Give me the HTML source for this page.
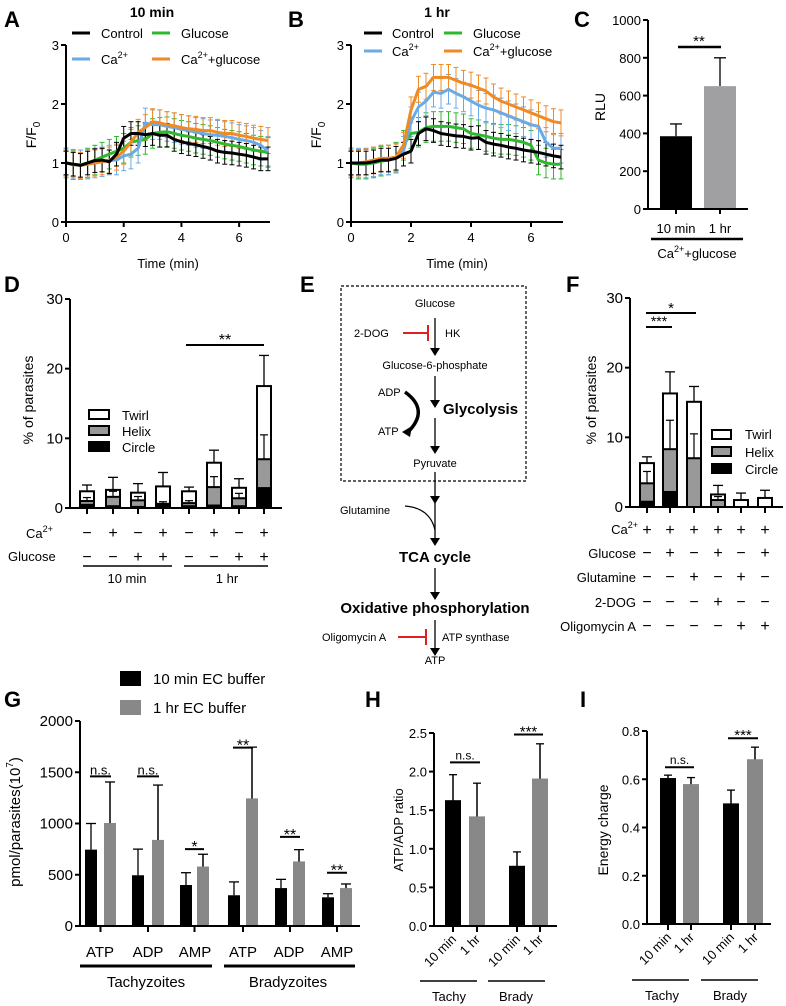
<!DOCTYPE html>
<html><head><meta charset="utf-8"><style>
html,body{margin:0;padding:0;background:#fff}
svg{display:block;font-family:"Liberation Sans",Arial,sans-serif}
</style></head><body>
<svg id="fig" width="786" height="1006" viewBox="0 0 786 1006" xmlns="http://www.w3.org/2000/svg">
<g font-weight="bold" font-size="22">
<text x="4" y="27">A</text>
<text x="288" y="27">B</text>
<text x="574" y="27">C</text>
<text x="4" y="292">D</text>
<text x="300" y="292">E</text>
<text x="566" y="292">F</text>
<text x="4" y="707">G</text>
<text x="365" y="707">H</text>
<text x="580" y="707">I</text>
</g>
<text x="152" y="17" font-size="14" font-weight="bold" text-anchor="middle">10 min</text>
<text x="437" y="17" font-size="14" font-weight="bold" text-anchor="middle">1 hr</text>
<text x="168" y="268" font-size="13" text-anchor="middle">Time (min)</text>
<text x="457" y="268" font-size="13" text-anchor="middle">Time (min)</text>
<text transform="translate(36,135) rotate(-90)" font-size="14" text-anchor="middle">F/F<tspan font-size="10" dy="4">0</tspan></text>
<text transform="translate(321,135) rotate(-90)" font-size="14" text-anchor="middle">F/F<tspan font-size="10" dy="4">0</tspan></text>
<text transform="translate(605,107) rotate(-90)" font-size="14" text-anchor="middle">RLU</text>
<text transform="translate(33,400) rotate(-90)" font-size="14" text-anchor="middle">% of parasites</text>
<text transform="translate(596,400) rotate(-90)" font-size="14" text-anchor="middle">% of parasites</text>
<text transform="translate(20,822) rotate(-90)" font-size="15" text-anchor="middle">pmol/parasites(10<tspan font-size="10" dy="-7">7</tspan><tspan dy="7">)</tspan></text>
<text transform="translate(403,830) rotate(-90)" font-size="13" text-anchor="middle">ATP/ADP ratio</text>
<text transform="translate(608,830) rotate(-90)" font-size="14" text-anchor="middle">Energy charge</text>
<!-- legends A/B -->
<g font-size="13">
<line x1="72" y1="33" x2="90" y2="33" stroke="#000" stroke-width="3"/><text x="101" y="38">Control</text>
<line x1="152" y1="33" x2="170" y2="33" stroke="#2db82d" stroke-width="3"/><text x="181" y="38">Glucose</text>
<line x1="72" y1="59" x2="90" y2="59" stroke="#6aaae6" stroke-width="3"/><text x="101" y="64">Ca<tspan font-size="9" dy="-6">2+</tspan></text>
<line x1="152" y1="59" x2="170" y2="59" stroke="#f08a24" stroke-width="3"/><text x="181" y="64">Ca<tspan font-size="9" dy="-6">2+</tspan><tspan dy="6">+glucose</tspan></text>
</g>
<g font-size="13">
<line x1="364" y1="33" x2="382" y2="33" stroke="#000" stroke-width="3"/><text x="392" y="38">Control</text>
<line x1="444" y1="33" x2="462" y2="33" stroke="#2db82d" stroke-width="3"/><text x="473" y="38">Glucose</text>
<line x1="364" y1="51" x2="382" y2="51" stroke="#6aaae6" stroke-width="3"/><text x="392" y="56">Ca<tspan font-size="9" dy="-6">2+</tspan></text>
<line x1="444" y1="51" x2="462" y2="51" stroke="#f08a24" stroke-width="3"/><text x="473" y="56">Ca<tspan font-size="9" dy="-6">2+</tspan><tspan dy="6">+glucose</tspan></text>
</g>
<!-- C labels -->
<g font-size="13">
<text x="676" y="233" text-anchor="middle">10 min</text><text x="720" y="233" text-anchor="middle">1 hr</text>
<line x1="651" y1="239" x2="743" y2="239" stroke="#000" stroke-width="2.5"/>
<text x="697" y="258" text-anchor="middle">Ca<tspan font-size="9" dy="-6">2+</tspan><tspan dy="6">+glucose</tspan></text>
</g>
<!-- D legend and rows -->
<g font-size="13">
<rect x="89" y="410" width="20" height="9" fill="#fff" stroke="#000" stroke-width="2"/><text x="122" y="420">Twirl</text>
<rect x="89" y="426" width="20" height="9" fill="#999" stroke="#000" stroke-width="2"/><text x="122" y="436">Helix</text>
<rect x="89" y="442" width="20" height="9" fill="#000" stroke="#000" stroke-width="2"/><text x="122" y="452">Circle</text>
</g>
<g font-size="13">
<text x="26" y="538">Ca<tspan font-size="9" dy="-6">2+</tspan></text>
<text x="8" y="561">Glucose</text>
<line x1="83" y1="566" x2="172" y2="566" stroke="#000" stroke-width="1.5"/>
<line x1="184" y1="566" x2="268" y2="566" stroke="#000" stroke-width="1.5"/>
<text x="127" y="583" text-anchor="middle">10 min</text><text x="227" y="583" text-anchor="middle">1 hr</text>
</g>
<g font-size="13">
<rect x="712" y="430" width="19" height="9" fill="#fff" stroke="#000" stroke-width="2"/><text x="745" y="439">Twirl</text>
<rect x="712" y="447" width="19" height="9" fill="#999" stroke="#000" stroke-width="2"/><text x="745" y="457">Helix</text>
<rect x="712" y="464" width="19" height="9" fill="#000" stroke="#000" stroke-width="2"/><text x="745" y="474">Circle</text>
</g>
<g font-size="13" text-anchor="end">
<text x="638" y="534">Ca<tspan font-size="9" dy="-6">2+</tspan></text>
<text x="636" y="558">Glucose</text>
<text x="636" y="582">Glutamine</text>
<text x="636" y="607">2-DOG</text>
<text x="636" y="631">Oligomycin A</text>
</g>
<!-- E pathway -->
<g font-size="11">
<rect x="341" y="286" width="185" height="195" fill="none" stroke="#000" stroke-width="1.2" stroke-dasharray="3,2"/>
<text x="435" y="307" text-anchor="middle">Glucose</text>
<text x="354" y="337">2-DOG</text>
<line x1="403" y1="333" x2="428" y2="333" stroke="#e02020" stroke-width="2"/><line x1="428" y1="325" x2="428" y2="341" stroke="#e02020" stroke-width="2"/>
<text x="445" y="337">HK</text>
<text x="435" y="369" text-anchor="middle">Glucose-6-phosphate</text>
<text x="378" y="396">ADP</text>
<path d="M405,392 Q430,410 408,432" fill="none" stroke="#000" stroke-width="3.5"/>
<polygon points="402,432 412,426 410,437" fill="#000"/>
<text x="443" y="414" font-size="15" font-weight="bold">Glycolysis</text>
<text x="378" y="435">ATP</text>
<text x="435" y="467" text-anchor="middle">Pyruvate</text>
<text x="340" y="514">Glutamine</text>
<path d="M405,506 Q430,508 435,530" fill="none" stroke="#000" stroke-width="1.2"/>
<text x="435" y="562" font-size="15" font-weight="bold" text-anchor="middle">TCA cycle</text>
<text x="435" y="613" font-size="15" font-weight="bold" text-anchor="middle">Oxidative phosphorylation</text>
<text x="322" y="641">Oligomycin A</text>
<line x1="398" y1="637" x2="426" y2="637" stroke="#e02020" stroke-width="2"/><line x1="426" y1="629" x2="426" y2="645" stroke="#e02020" stroke-width="2"/>
<text x="442" y="641">ATP synthase</text>
<text x="435" y="664" text-anchor="middle">ATP</text>
<g stroke="#000" stroke-width="1.3">
<line x1="435" y1="318" x2="435" y2="350"/><line x1="435" y1="376" x2="435" y2="402"/><line x1="435" y1="418" x2="435" y2="448"/>
<line x1="435" y1="472" x2="435" y2="498"/><line x1="435" y1="500" x2="435" y2="540"/><line x1="435" y1="568" x2="435" y2="594"/><line x1="435" y1="620" x2="435" y2="650"/>
</g>
<g fill="#000">
<polygon points="430,348 440,348 435,356"/><polygon points="430,400 440,400 435,408"/><polygon points="430,446 440,446 435,454"/>
<polygon points="430,496 440,496 435,504"/><polygon points="430,538 440,538 435,546"/><polygon points="430,592 440,592 435,600"/><polygon points="430,648 440,648 435,656"/>
</g>
</g>
<!-- G legend & labels -->
<g font-size="15">
<rect x="120" y="671" width="21" height="15" fill="#000"/><text x="153" y="684">10 min EC buffer</text>
<rect x="120" y="700" width="21" height="15" fill="#888"/><text x="153" y="713">1 hr EC buffer</text>
</g>
<g font-size="15" text-anchor="middle">
<text x="100" y="957">ATP</text><text x="148" y="957">ADP</text><text x="195" y="957">AMP</text>
<text x="243" y="957">ATP</text><text x="289" y="957">ADP</text><text x="337" y="957">AMP</text>
<line x1="80" y1="966" x2="212" y2="966" stroke="#000" stroke-width="3"/>
<line x1="224" y1="966" x2="355" y2="966" stroke="#000" stroke-width="3"/>
<text x="146" y="987">Tachyzoites</text><text x="288" y="987">Bradyzoites</text>
</g>
<g font-size="13">
<line x1="420" y1="981" x2="477" y2="981" stroke="#000" stroke-width="1.5"/><line x1="488" y1="981" x2="545" y2="981" stroke="#000" stroke-width="1.5"/>
<text x="449" y="1001" text-anchor="middle">Tachy</text><text x="516" y="1001" text-anchor="middle">Brady</text>
<line x1="632" y1="980" x2="689" y2="980" stroke="#000" stroke-width="1.5"/><line x1="701" y1="980" x2="758" y2="980" stroke="#000" stroke-width="1.5"/>
<text x="662" y="1000" text-anchor="middle">Tachy</text><text x="730" y="1000" text-anchor="middle">Brady</text>
</g>
</svg>
<script>
// ---------- Data ----------
const timeA = [0,0.25,0.5,0.75,1,1.25,1.5,1.75,2,2.25,2.5,2.75,3,3.25,3.5,3.75,4,4.25,4.5,4.75,5,5.25,5.5,5.75,6,6.25,6.5,6.75,7];
const aControl = [1.0,0.98,0.96,1.0,1.04,1.05,1.02,1.15,1.42,1.5,1.5,1.48,1.5,1.47,1.47,1.4,1.36,1.33,1.31,1.28,1.25,1.2,1.18,1.17,1.15,1.13,1.1,1.07,1.07];
const aGlucose = [1.0,0.97,0.97,1.0,1.05,1.1,1.15,1.2,1.25,1.35,1.38,1.4,1.5,1.52,1.53,1.5,1.47,1.45,1.42,1.4,1.38,1.35,1.32,1.3,1.28,1.25,1.22,1.2,1.18];
const aCa = [1.0,0.98,0.97,0.98,1.0,1.02,1.05,1.05,1.12,1.15,1.25,1.68,1.65,1.65,1.62,1.6,1.57,1.55,1.52,1.5,1.48,1.47,1.45,1.43,1.4,1.38,1.35,1.3,1.2];
const aCaGlu = [1.0,0.98,0.96,0.98,1.0,1.02,1.05,1.1,1.2,1.35,1.52,1.6,1.7,1.68,1.65,1.63,1.6,1.58,1.57,1.55,1.55,1.52,1.5,1.5,1.47,1.45,1.42,1.4,1.38];
const bControl = [1.0,1.0,1.0,1.02,1.05,1.05,1.08,1.15,1.2,1.5,1.58,1.55,1.5,1.48,1.46,1.45,1.42,1.43,1.35,1.32,1.3,1.27,1.25,1.22,1.2,1.18,1.15,1.12,1.1];
const bGlucose = [1.0,0.98,0.98,1.0,1.03,1.05,1.1,1.3,1.5,1.52,1.6,1.62,1.62,1.62,1.6,1.58,1.5,1.48,1.45,1.42,1.4,1.4,1.38,1.35,1.3,1.05,1.0,0.98,0.98];
const bCa = [1.0,1.0,1.0,1.02,1.05,1.05,1.08,1.2,1.7,1.95,2.05,2.2,2.18,2.25,2.18,2.12,2.05,1.98,1.93,1.9,1.85,1.8,1.75,1.7,1.65,1.62,1.35,1.25,1.25];
const bCaGlu = [1.0,1.0,1.02,1.05,1.08,1.08,1.1,1.3,1.9,2.25,2.3,2.45,2.45,2.45,2.4,2.35,2.32,2.27,2.22,2.12,2.05,2.0,1.95,1.9,1.85,1.8,1.75,1.7,1.68];
const seriesErr = [0.2,0.25,0.25,0.22];
const timeTicks = [0,2,4,6];
const fTicks = [0,1,2,3];

const cCats = ['10 min','1 hr'];
const cVals = [385,650];
const cErr = [65,150];
const cTicks = [0,200,400,600,800,1000];

const dCircle = [0.6,0.4,0.3,0.5,0.4,0.5,0.4,3.0];
const dHelix = [1.0,1.6,1.1,0.6,0.7,3.0,1.4,7.0];
const dTotal = [2.4,2.6,2.2,3.1,2.4,6.5,2.9,17.5];
const dErr = [0.9,1.8,1.3,2.0,0.6,1.8,1.3,4.4];
const dCa = ['−','+','−','+','−','+','−','+'];
const dGlu = ['−','−','+','+','−','−','+','+'];
const pctTicks = [0,10,20,30];

const fCircle = [0.9,2.3,0,0,0,0];
const fHelix = [3.4,8.3,7.0,1.0,0,0];
const fTotal = [6.3,16.3,15.1,1.8,1.0,1.3];
const fErr = [0.9,3.1,2.2,1.3,1.0,1.1];
const fRows = [['+','+','+','+','+','+'],['−','+','−','+','−','+'],['−','−','+','−','+','−'],['−','−','−','+','−','−'],['−','−','−','−','+','+']];

const gBlack = [745,495,400,300,370,280];
const gBlackErr = [255,255,120,130,85,35];
const gGray = [1005,840,580,1245,630,370];
const gGrayErr = [400,535,120,500,115,40];
const gSig = [1460,1460,750,1740,870,520];
const gSigLbl = ['n.s.','n.s.','*','**','**','**'];
const gTicks = [0,500,1000,1500,2000];

const hVals = [1.63,1.42,0.78,1.91];
const hErr = [0.33,0.43,0.18,0.45];
const hTicks = [0,0.5,1.0,1.5,2.0,2.5];
const iVals = [0.605,0.58,0.50,0.683];
const iErr = [0.012,0.027,0.055,0.05];
const iTicks = [0,0.2,0.4,0.6,0.8];
const hiCats = ['10 min','1 hr','10 min','1 hr'];

// ---------- helpers ----------
const svg = document.getElementById('fig');
const NS = 'http://www.w3.org/2000/svg';
function mk(tag, attrs, name){
  const el = document.createElementNS(NS, tag);
  for (const k in attrs) el.setAttribute(k, attrs[k]);
  
  
  svg.appendChild(el);
  return el;
}
function txt(x,y,s,size,anchor,name,extra){
  const t = mk('text', Object.assign({x:x,y:y,'font-size':size,'text-anchor':anchor||'middle'}, extra||{}), name);
  t.textContent = s;
  return t;
}
function line(x1,y1,x2,y2,w,c,name){ return mk('line',{x1:x1,y1:y1,x2:x2,y2:y2,stroke:c||'#000','stroke-width':w||1.5},name); }
function lin(d0,d1,r0,r1){ return v => r0 + (v-d0)/(d1-d0)*(r1-r0); }
function yAxis(x,y0,y1,ticks,sy,fmt,size,name){
  line(x,y0,x,y1,2,'#000',name);
  ticks.forEach(t=>{ const y=sy(t); line(x-5,y,x,y,2,'#000',name+'-tick'); txt(x-7,y+5,fmt(t),size,'end',name+'-label'); });
}
function errBar(x,ytop,yv,cap,col,name){
  line(x,yv,x,ytop,1.3,col||'#000',name);
  line(x-cap,ytop,x+cap,ytop,1.3,col||'#000',name+'-cap');
}

// ---------- A & B line charts ----------
function lineChart(x0,x1,ys,sets,errs,pref){
  const sx = lin(0,7,x0,x1), sy = lin(0,3,222,45);
  const cols = ['#2db82d','#6aaae6','#f08a24','#000'];
  const order = [1,2,3,0]; // draw control last
  order.forEach((si,k)=>{
    const data = sets[si], col = cols[(si+3)%4];
    data.forEach((v,i)=>{
      if(i%1===0){ const x=sx(timeA[i]); const e=errs[si];
        line(x,sy(v-e),x,sy(v+e),1,col,pref+'-err');
        line(x-2.5,sy(v+e),x+2.5,sy(v+e),1,col,pref+'-err-cap');
        line(x-2.5,sy(v-e),x+2.5,sy(v-e),1,col,pref+'-err-cap'); }
    });
    const pts = data.map((v,i)=>sx(timeA[i]).toFixed(1)+','+sy(v).toFixed(1)).join(' ');
    mk('polyline',{points:pts,fill:'none',stroke:col,'stroke-width':3,'stroke-linejoin':'round'},pref+'-series-'+['control','ca','glucose','ca-glucose'][si]);
  });
  yAxis(x0,45,222,fTicks,sy,t=>String(t),13,pref+'-y-axis');
  line(x0,222,x1+2,222,2,'#000',pref+'-x-axis');
  timeTicks.forEach(t=>{ line(sx(t),222,sx(t),227,2,'#000',pref+'-x-tick'); txt(sx(t),242,String(t),13,'middle',pref+'-x-label'); });
}
// sets order: control, ca, glucose, caglu -> cols mapped
(function(){
  // colors by index: 0 control black,1 ca blue,2 glucose green,3 caglu orange
  function chart(x0,x1,c,g,ca,cg,pref){
    const sx = lin(0,7,x0,x1), sy = lin(0,3,222,45);
    const sets=[g,ca,cg,c], cols=['#2db82d','#6aaae6','#f08a24','#000'], names=['glucose','ca','ca-glucose','control'], errs=[seriesErr[1],seriesErr[2],seriesErr[3],seriesErr[0]];
    sets.forEach((data,si)=>{
      const col=cols[si], e=errs[si];
      data.forEach((v,i)=>{ const x=sx(timeA[i]);
        line(x,sy(v-e),x,sy(v+e),1,col,pref+'-err');
        line(x-2.5,sy(v+e),x+2.5,sy(v+e),1,col,pref+'-err-cap');
        line(x-2.5,sy(v-e),x+2.5,sy(v-e),1,col,pref+'-err-cap'); });
    });
    sets.forEach((data,si)=>{
      const pts = data.map((v,i)=>sx(timeA[i]).toFixed(1)+','+sy(v).toFixed(1)).join(' ');
      mk('polyline',{points:pts,fill:'none',stroke:cols[si],'stroke-width':3,'stroke-linejoin':'round'},pref+'-series-'+names[si]);
    });
    yAxis(x0,45,222,fTicks,sy,t=>String(t),13,pref+'-y-axis');
    line(x0,222,x1+2,222,2,'#000',pref+'-x-axis');
    timeTicks.forEach(t=>{ line(sx(t),222,sx(t),227,2,'#000',pref+'-x-tick'); txt(sx(t),242,String(t),13,'middle',pref+'-x-label'); });
  }
  chart(66,268,aControl,aGlucose,aCa,aCaGlu,'a');
  chart(351,561,bControl,bGlucose,bCa,bCaGlu,'b');
})();

// ---------- C ----------
(function(){
  const sy = lin(0,1000,209,20); const xs=[676,720]; const cols=['#000','#a0a0a2'];
  cVals.forEach((v,i)=>{
    errBar(xs[i],sy(v+cErr[i]),sy(v),6,'#000','c-err');
    mk('rect',{x:xs[i]-16,y:sy(v),width:32,height:209-sy(v),fill:cols[i]},'c-bar-'+i);
    line(xs[i],209,xs[i],214,2,'#000','c-x-tick');
  });
  yAxis(648,20,209,cTicks,sy,t=>String(t),13,'c-y-axis');
  line(648,209,748,209,2,'#000','c-x-axis');
  line(678,47,721,47,2.5,'#000','c-sig-line'); txt(699,46,'**',15,'middle','c-sig');
})();

// ---------- stacked bars ----------
function stacked(x0,x1,xs,w,circ,hel,tot,err,pref){
  const sy = lin(0,30,y0s[pref],y0s[pref+'0']);
  xs.forEach((x,i)=>{
    errBar(x,sy(tot[i]+err[i]),sy(tot[i]),5,'#000',pref+'-err');
    mk('rect',{x:x-w/2,y:sy(tot[i]),width:w,height:sy(0)-sy(tot[i]),fill:'#fff',stroke:'#000','stroke-width':2},pref+'-twirl-'+i);
    if(hel[i]>0) mk('rect',{x:x-w/2,y:sy(hel[i]),width:w,height:sy(0)-sy(hel[i]),fill:'#999',stroke:'#000','stroke-width':2},pref+'-helix-'+i);
    if(circ[i]>0) mk('rect',{x:x-w/2,y:sy(circ[i]),width:w,height:sy(0)-sy(circ[i]),fill:'#000'},pref+'-circle-'+i);
    if(hel[i]>0.5){ line(x,sy(hel[i]),x,sy(hel[i]*1.5),1.2,'#000',pref+'-inner-err'); line(x-4,sy(hel[i]*1.5),x+4,sy(hel[i]*1.5),1.2,'#000',pref+'-inner-cap'); }
    line(x,sy(0),x,sy(0)+6,2,'#000',pref+'-x-tick');
  });
  yAxis(x0,sy(30),sy(0),pctTicks,sy,t=>String(t),15,pref+'-y-axis');
  line(x0,sy(0),x1,sy(0),2,'#000',pref+'-x-axis');
  return sy;
}
const y0s={d:508,d0:299,f:507,f0:298};
const dX=[87,113,138,163,189,214,239,264];
stacked(70,282,dX,14,dCircle,dHelix,dTotal,dErr,'d');
dX.forEach((x,i)=>{ txt(x,538,dCa[i],16,'middle','d-ca-sign'); txt(x,562,dGlu[i],16,'middle','d-glucose-sign'); });
line(186,345,264,345,2,'#000','d-sig-line'); txt(225,345,'**',16,'middle','d-sig');

const fX=[647,670,694,718,741,765];
stacked(630,783,fX,14,fCircle,fHelix,fTotal,fErr,'f');
const fRowY=[535,558,582,607,631];
fRows.forEach((row,r)=>row.forEach((s,i)=>txt(fX[i],fRowY[r],s,16,'middle','f-row-sign')));
line(646,313,696,313,2,'#000','f-sig-line-1'); txt(671,313,'*',15,'middle','f-sig-1');
line(646,327,672,327,2,'#000','f-sig-line-2'); txt(659,326,'***',14,'middle','f-sig-2');

// ---------- G ----------
(function(){
  const sy = lin(0,2000,926,721);
  const bx=[91,138,186,234,281,328], gx=[110,158,203,252,299,346], w=12;
  gBlack.forEach((v,i)=>{
    errBar(bx[i],sy(v+gBlackErr[i]),sy(v),5,'#000','g-err-black');
    mk('rect',{x:bx[i]-w/2,y:sy(v),width:w,height:926-sy(v),fill:'#000'},'g-bar-10min-'+i);
    errBar(gx[i],sy(gGray[i]+gGrayErr[i]),sy(gGray[i]-gGrayErr[i]),5,'#000','g-err-gray');
    mk('rect',{x:gx[i]-w/2,y:sy(gGray[i]),width:w,height:926-sy(gGray[i]),fill:'#888'},'g-bar-1hr-'+i);
    line(gx[i],sy(gGray[i]+gGrayErr[i]),gx[i],sy(gGray[i]),1.3,'#000','g-err-gray-top');
    line((bx[i]+gx[i])/2,926,(bx[i]+gx[i])/2,932,2,'#000','g-x-tick');
    line(bx[i]-1,sy(gSig[i]),gx[i]+1,sy(gSig[i]),2,'#000','g-sig-line');
    txt((bx[i]+gx[i])/2,sy(gSig[i])-(gSigLbl[i]==='n.s.'?2:-3),gSigLbl[i],gSigLbl[i]==='n.s.'?13:16,'middle','g-sig');
  });
  yAxis(80,721,926,gTicks,sy,t=>String(t),15,'g-y-axis');
  line(80,926,360,926,2,'#000','g-x-axis');
})();

// ---------- H & I ----------
function pairChart(ax,axEnd,ytop,ybot,maxV,ticks,fmt,xs,vals,errs,sigs,pref){
  const sy = lin(0,maxV,ybot,ytop), cols=['#000','#888','#000','#888'];
  vals.forEach((v,i)=>{
    errBar(xs[i],sy(v+errs[i]),sy(v-errs[i]),4,'#000',pref+'-err');
    mk('rect',{x:xs[i]-8,y:sy(v),width:16,height:ybot-sy(v),fill:cols[i]},pref+'-bar-'+i);
    line(xs[i],sy(v+errs[i]),xs[i],sy(v),1.3,'#000',pref+'-err-top');
    line(xs[i],ybot,xs[i],ybot+6,2,'#000',pref+'-x-tick');
    const t = txt(0,0,hiCats[i],13,'end',pref+'-x-label',{transform:'translate('+(xs[i]+4)+','+(ybot+14)+') rotate(-45)'});
  });
  yAxis(ax,ytop,ybot,ticks,sy,fmt,13,pref+'-y-axis');
  line(ax,ybot,axEnd,ybot,2,'#000',pref+'-x-axis');
  line(xs[0]-3,sy(sigs[0]),xs[1]+3,sy(sigs[0]),2,'#000',pref+'-sig-line-ns');
  txt((xs[0]+xs[1])/2,sy(sigs[0])-3,'n.s.',12,'middle',pref+'-sig-ns');
  line(xs[2]-3,sy(sigs[1]),xs[3]+3,sy(sigs[1]),2,'#000',pref+'-sig-line');
  txt((xs[2]+xs[3])/2,sy(sigs[1])+2,'***',15,'middle',pref+'-sig');
}
pairChart(434,557,733,926,2.5,hTicks,t=>t.toFixed(1),[453,477,517,540],hVals,hErr,[2.12,2.48],'h');
pairChart(647,771,731,924,0.8,iTicks,t=>t.toFixed(1),[668,691,731,755],iVals,iErr,[0.65,0.77],'i');
</script>
</body></html>
